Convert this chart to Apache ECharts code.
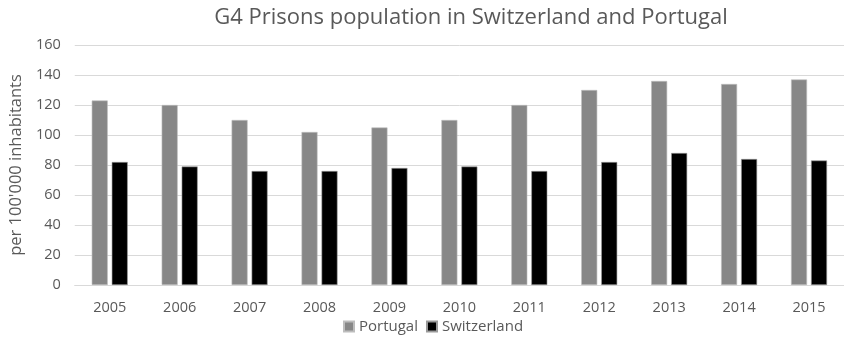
<!DOCTYPE html>
<html>
<head>
<meta charset="utf-8">
<script src="https://cdn.jsdelivr.net/npm/echarts@6/dist/echarts.min.js"></script>
<style>
  html, body { margin: 0; padding: 0; background: #fff; }
  #chart { width: 844px; height: 342px; }
</style>
</head>
<body>
<div id="chart"></div>
<script>
// Prison population per 100'000 inhabitants, 2005–2015
const years = ['2005', '2006', '2007', '2008', '2009', '2010', '2011', '2012', '2013', '2014', '2015'];
const portugal = [123, 120, 110, 102, 105, 110, 120, 130, 136, 134, 137];
const switzerland = [82, 79, 76, 76, 78, 79, 76, 82, 88, 84, 83];
const yTicks = [0, 20, 40, 60, 80, 100, 120, 140, 160];

const font = '"Open Sans", "Liberation Sans", sans-serif';
const textGrey = '#595959';

const chart = echarts.init(document.getElementById('chart'), null, { renderer: 'canvas' });
chart.setOption({
  animation: false,
  title: {
    text: 'G4 Prisons population in Switzerland and Portugal',
    left: 466, top: 2, textAlign: 'center',
    textStyle: { fontFamily: font, fontSize: 22, fontWeight: 'normal', color: textGrey }
  },
  legend: {
    data: ['Portugal', 'Switzerland'],
    left: 338, bottom: 3,
    itemWidth: 10, itemHeight: 10, itemGap: 8,
    icon: 'rect',
    textStyle: { fontFamily: font, fontSize: 15, color: textGrey }
  },
  grid: { left: 73.6, right: -8, top: 45, bottom: 57 },
  xAxis: {
    type: 'category',
    data: years,
    axisLine: { lineStyle: { color: '#d9d9d9' } },
    axisTick: { show: false },
    axisLabel: { fontFamily: font, fontSize: 14.5, color: textGrey, margin: 15 }
  },
  yAxis: {
    type: 'value',
    min: yTicks[0], max: yTicks[yTicks.length - 1], interval: 20,
    name: "per 100'000 inhabitants",
    nameLocation: 'middle', nameGap: 46,
    nameTextStyle: { fontFamily: font, fontSize: 16.5, color: textGrey },
    axisLabel: { fontFamily: font, fontSize: 14.5, color: textGrey, margin: 14 },
    splitLine: { lineStyle: { color: '#d9d9d9', width: 1 } }
  },
  series: [
    {
      name: 'Portugal', type: 'bar', data: portugal,
      barWidth: 16, barGap: '25%',
      itemStyle: { color: '#878787', borderColor: '#bdbdbd', borderWidth: 0.6 }
    },
    {
      name: 'Switzerland', type: 'bar', data: switzerland,
      barWidth: 16,
      itemStyle: { color: '#000000', borderColor: '#9a9a9a', borderWidth: 0.6 }
    }
  ]
});
</script>
</body>
</html>
